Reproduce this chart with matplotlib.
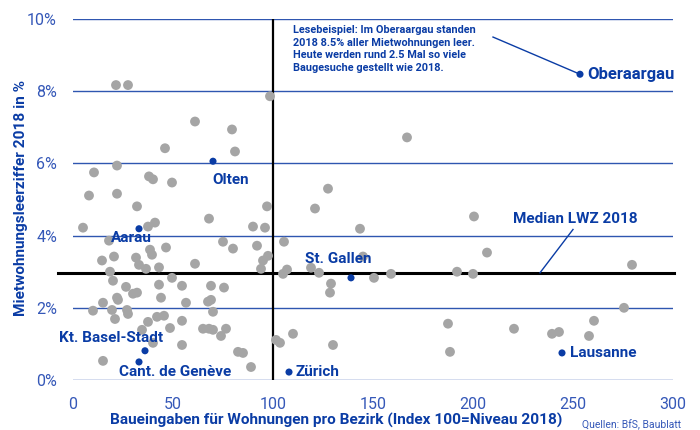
import matplotlib.pyplot as plt
import numpy as np

# gray districts: building applications index (x) vs vacancy rate 2018 in % (y)
grey_x = [21.5, 27.5, 98.5, 61, 79.5, 46, 81, 10.5, 22, 38, 40, 49.5, 8, 22, 32, 97, 121, 127.5, 167,
          5, 37.5, 41, 18, 46.5, 38.5, 39.5, 14.5, 20.5, 31.5, 33, 43, 68, 90, 96, 75, 80, 92, 105.5,
          36.5, 61, 95, 97.5, 94, 105, 107, 18.5, 20, 26.5, 30, 32, 43, 49.5, 54.5, 69, 75.5,
          15, 22, 22.5, 44, 56.5, 67.5, 69, 70, 10, 19.5, 21, 27, 27.5, 37.5, 42, 45.5,
          34.5, 40, 48.5, 54.5, 54.5, 65, 68, 70, 74, 76.5, 82.5, 85, 89, 15, 101.5, 103.5, 110, 130,
          143.5, 145, 119, 123, 129, 128.5, 150.5, 159, 200.5, 207, 192, 200, 279.5, 275.5,
          187.5, 260.5, 220.5, 239.5, 243, 258, 188.5]
grey_y = [8.17, 8.17, 7.86, 7.16, 6.94, 6.42, 6.33, 5.75, 5.94, 5.64, 5.56, 5.47, 5.11, 5.16, 4.81, 4.81, 4.75, 5.3, 6.72,
          4.22, 4.25, 4.36, 3.86, 3.67, 3.61, 3.47, 3.31, 3.42, 3.39, 3.19, 3.12, 4.47, 4.25, 4.22, 3.83, 3.64, 3.72, 3.83,
          3.08, 3.22, 3.31, 3.44, 3.08, 2.94, 3.06, 3.0, 2.75, 2.58, 2.39, 2.42, 2.64, 2.83, 2.61, 2.61, 2.56,
          2.14, 2.28, 2.22, 2.28, 2.14, 2.17, 2.22, 1.89, 1.92, 1.94, 1.69, 1.94, 1.83, 1.61, 1.75, 1.78,
          1.39, 1.03, 1.44, 1.64, 0.97, 1.42, 1.42, 1.39, 1.22, 1.42, 0.78, 0.75, 0.36, 0.53, 1.11, 1.03, 1.28, 0.97,
          4.19, 3.42, 3.11, 2.97, 2.67, 2.42, 2.83, 2.94, 4.53, 3.53, 3.0, 2.94, 3.19, 2.0,
          1.56, 1.64, 1.42, 1.28, 1.33, 1.22, 0.78]

# highlighted districts
names = ["Oberaargau", "Olten", "Aarau", "St. Gallen", "Kt. Basel-Stadt", "Cant. de Genève", "Zürich", "Lausanne"]
hi_x = [253.5, 70, 33, 139, 36, 33, 108, 244.5]
hi_y = [8.47, 6.06, 4.19, 2.83, 0.81, 0.5, 0.22, 0.75]

median_lwz = 2.97
xticks = [0, 50, 100, 150, 200, 250, 300]
yticks = [0, 2, 4, 6, 8, 10]

plt.rcParams['font.family'] = ['Roboto', 'DejaVu Sans']
dark_blue = '#0A3CA5'
tick_blue = '#3558B8'
grid_blue = '#2F56B0'

fig = plt.figure(figsize=(7, 4.3), dpi=100)
ax = fig.add_axes([73/700, 50/430, 600/700, 361/430])

for yv in yticks:
    ax.axhline(yv, color=grid_blue, lw=1.0, zorder=1)
ax.plot([100, 100], [0, 10], color='black', lw=1.6, zorder=2)
ax.plot([-7.5, 300.5], [median_lwz, median_lwz], color='black', lw=2.2, zorder=2, clip_on=False)

ax.scatter(grey_x, grey_y, s=50, color='#A5A5A5', edgecolors='none', zorder=3)
ax.scatter(hi_x, hi_y, s=26, color=dark_blue, edgecolors='none', zorder=4)

# point labels: (text x, text y, ha)
lab_pos = {"Oberaargau": (257, 8.47, 'left'), "Olten": (69.5, 5.55, 'left'),
           "Aarau": (29, 3.94, 'center'), "St. Gallen": (132.5, 3.36, 'center'),
           "Kt. Basel-Stadt": (19, 1.17, 'center'), "Cant. de Genève": (51, 0.22, 'center'),
           "Zürich": (111.5, 0.22, 'left'), "Lausanne": (248.5, 0.75, 'left')}
for n in names:
    tx, ty, ha = lab_pos[n]
    fs = 12 if n == "Oberaargau" else 11
    ax.text(tx, ty, n, ha=ha, va='center', color=dark_blue, fontsize=fs, fontweight='bold', zorder=5)

ax.text(251, 4.47, "Median LWZ 2018", ha='center', va='center', color=dark_blue,
        fontsize=11, fontweight='bold', zorder=5)
ax.plot([233.5, 250], [median_lwz, 4.17], color=dark_blue, lw=1.0, zorder=5)

ax.text(110, 9.84, "Lesebeispiel: Im Oberaargau standen\n2018 8.5% aller Mietwohnungen leer.\n"
        "Heute werden rund 2.5 Mal so viele\nBaugesuche gestellt wie 2018.",
        ha='left', va='top', color=dark_blue, fontsize=7.8, fontweight='bold', linespacing=1.35, zorder=5)
ax.plot([210, hi_x[0]], [9.5, hi_y[0]], color=dark_blue, lw=1.0, zorder=5)

ax.set_xlim(0, 300)
ax.set_ylim(0, 10)
ax.set_xticks(xticks)
ax.set_yticks(yticks)
ax.set_yticklabels([f"{v}%" for v in yticks])
ax.tick_params(length=0, labelsize=11.5, labelcolor=tick_blue)
ax.tick_params(axis='x', pad=12)
ax.tick_params(axis='y', pad=11.5)
for s in ax.spines.values():
    s.set_visible(False)

fig.text(336/700, 1 - 420/430, "Baueingaben für Wohnungen pro Bezirk (Index 100=Niveau 2018)",
         ha='center', va='center', color=dark_blue, fontsize=11.1, fontweight='bold')
fig.text(21/700, 1 - 198/430, "Mietwohnungsleerziffer 2018 in %", rotation=90,
         ha='center', va='center', color=dark_blue, fontsize=11.1, fontweight='bold')
fig.text(681/700, 1 - 425/430, "Quellen: BfS, Baublatt", ha='right', va='center',
         color=tick_blue, fontsize=7.5)

fig.savefig("out.png", dpi=100)
